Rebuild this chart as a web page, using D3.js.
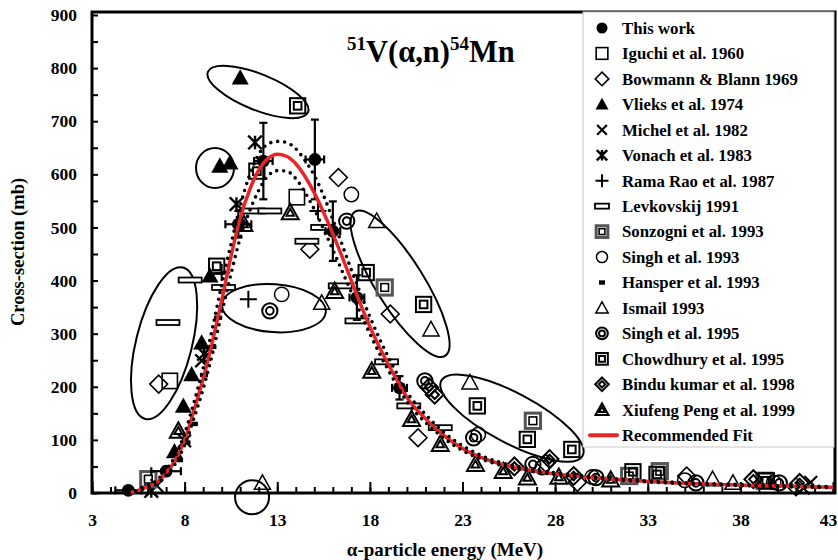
<!DOCTYPE html>
<html>
<head>
<meta charset="utf-8">
<script src="https://cdn.jsdelivr.net/npm/d3@7/dist/d3.min.js"></script>
<style>
body{margin:0;background:#fff;}
text{font-family:"Liberation Serif","Times New Roman",serif;font-weight:bold;fill:#000;}
</style>
</head>
<body>
<svg width="838" height="560"></svg>
<script>
// recommended fit and its uncertainty band (dotted)
var fitE  = [5, 5.5, 6, 6.5, 7, 7.5, 8, 8.5, 9, 9.5, 10, 10.5, 11, 11.5, 12, 12.5, 13, 13.5, 14, 14.5, 15, 15.5, 16, 16.5, 17, 17.5, 18, 18.5, 19, 19.5, 20, 21, 22, 23, 24, 25, 26, 27, 28, 30, 32, 34, 36, 38, 40, 43];
var fitS  = [0, 5, 12, 20, 38, 62, 100, 155, 215, 285, 362, 445, 518, 570, 608, 630, 638, 634, 620, 596, 565, 528, 488, 445, 400, 355, 313, 276, 242, 210, 180, 140, 108, 84, 67, 55, 47, 41, 36, 29, 24, 20, 17, 15, 13, 11];
var bandHi = [0, 6, 14, 24, 44, 70, 112, 170, 235, 310, 392, 468, 540, 598, 638, 657, 662, 660, 648, 626, 598, 560, 515, 468, 420, 375, 332, 292, 256, 222, 190, 148, 114, 89, 71, 58, 50, 43, 38, 31, 25, 21, 18, 16, 14, 12];
var bandLo = [0, 4, 10, 17, 33, 55, 90, 140, 196, 262, 338, 412, 480, 530, 570, 597, 607, 606, 592, 566, 534, 497, 458, 418, 378, 338, 300, 264, 231, 200, 172, 133, 103, 80, 64, 53, 45, 39, 35, 28, 23, 19, 16, 14, 12, 10];

// this work, with error bars
var workE    = [4.96, 7.0, 10.9, 12.25, 15.03, 16.0, 17.3, 19.6];
var workS    = [5, 41, 506, 625, 628, 493, 368, 198];
var workErrS = [0, 8, 25, 72, 75, 56, 42, 22];
var workErrE = [0.7, 0.8, 0.7, 0.5, 0.5, 0.4, 0.4, 0.4];

// literature data [energy MeV, cross-section mb]
var iguchi   = [[7.2, 211], [14.06, 557]];
var bowmann  = [[6.6, 205], [14.76, 459], [16.3, 594], [19.1, 337], [20.6, 104], [27.5, 56], [29.2, 20], [35.1, 32], [41.0, 12]];
var vlieks   = [[7.45, 78], [7.93, 164], [8.38, 223], [8.92, 283], [9.37, 409], [9.9, 616], [10.45, 622], [11.0, 782]];
var michel   = [[6.5, 14], [8.0, 98], [8.92, 249], [41.4, 9], [41.8, 20]];
var vonach   = [[6.2, 4], [9.05, 262], [10.8, 544], [11.8, 660]];
var ramaRao  = [[10.0, 415], [11.44, 365], [15.2, 531]];
var levkov   = [[7.1, 321], [8.3, 401], [10.1, 387], [11.7, 531], [12.6, 531], [14.6, 474], [15.45, 500], [16.4, 390], [17.3, 324], [18.9, 247], [20.1, 164], [21.8, 123]];
var sonzogni = [[6.04, 26], [18.8, 387], [26.8, 136], [32.0, 32], [33.65, 41], [39.3, 23]];
var singh93  = [[13.24, 374], [17.0, 562], [23.85, 110], [27.3, 48], [30.0, 30], [35.0, 24], [39.8, 20]];
var hansper  = [[7.7, 62], [8.1, 95], [8.5, 130], [9.05, 222], [9.5, 275], [9.8, 330]];
var ismail   = [[12.2, 19], [15.4, 358], [18.37, 512], [21.3, 308], [23.4, 208], [36.5, 26], [37.6, 19]];
var singh95  = [[12.6, 343], [16.75, 512], [20.97, 211], [23.6, 104], [26.8, 54], [30.2, 29], [35.6, 19], [40.1, 19]];
var chowdhury = [[9.73, 427], [11.9, 606], [14.1, 729], [17.8, 415], [20.9, 355], [23.8, 164], [26.5, 101], [28.9, 82], [32.2, 40], [33.5, 35], [39.4, 23]];
var bindu    = [[21.2, 199], [21.5, 185], [25.8, 50], [27.7, 64], [29.0, 32], [38.7, 26], [41.2, 19]];
var xiufeng  = [[7.66, 117], [11.2, 506], [13.7, 528], [16.1, 380], [18.1, 230], [20.25, 139], [21.8, 92], [23.7, 54], [25.2, 41], [26.5, 29], [28.2, 30], [31.0, 25]];

var legendNames = ['This work', 'Iguchi et al. 1960', 'Bowmann & Blann 1969', 'Vlieks et al. 1974', 'Michel et al. 1982',
	'Vonach et al. 1983', 'Rama Rao et al. 1987', 'Levkovskij 1991', 'Sonzogni et al. 1993', 'Singh et al. 1993',
	'Hansper et al. 1993', 'Ismail 1993', 'Singh et al. 1995', 'Chowdhury et al. 1995', 'Bindu kumar et al. 1998',
	'Xiufeng Peng et al. 1999', 'Recommended Fit'];
var legendMarks = ['dot', 'square', 'diamond', 'tri', 'x', 'star', 'plus', 'bar', 'sonz', 'circle', 'hansper',
	'triOpen', 'dcircle', 'dsquare', 'ddiamond', 'dtri', 'fit'];

var xTicks = [3, 8, 13, 18, 23, 28, 33, 38, 43];
var yTicks = [0, 100, 200, 300, 400, 500, 600, 700, 800, 900];

// annotation ellipses [E, sigma, rx px, ry px, rotation]
var ellipses = [[11.96, 755, 54, 18, 22], [9.64, 612, 19, 20, 0], [6.89, 282, 28, 78, 14], [12.82, 348, 52, 24, 4],
	[19.63, 394, 85, 24, 58], [25.67, 141, 80, 25, 28], [11.64, -8, 17, 17, 0]];

var svg = d3.select('svg');

var x = d3.scaleLinear().domain([3, 43]).range([92, 833]);
var y = d3.scaleLinear().domain([0, 900]).range([493, 15]);

// axes
svg.append('g')
	.attr('transform', 'translate(0,' + y(0) + ')')
	.call(d3.axisBottom(x).tickValues(d3.range(3, 44, 1)).tickSize(-6).tickFormat(''))
	.call(g => g.select('.domain').remove())
	.selectAll('line').attr('stroke-width', 2);
svg.append('g')
	.attr('transform', 'translate(0,' + y(0) + ')')
	.call(d3.axisBottom(x).tickValues(xTicks).tickSize(-11).tickPadding(21).tickFormat(d3.format('d')))
	.call(g => g.select('.domain').remove())
	.call(g => g.selectAll('line').attr('stroke-width', 2))
	.call(g => g.selectAll('text').attr('font-size', 17.5).attr('font-family', null)
		.attr('dx', d => d === 43 ? -5 : 0));
svg.append('g')
	.attr('transform', 'translate(' + x(3) + ',0)')
	.call(d3.axisLeft(y).tickValues(d3.range(0, 901, 50)).tickSize(-6).tickFormat(''))
	.call(g => g.select('.domain').remove())
	.selectAll('line').attr('stroke-width', 2);
svg.append('g')
	.attr('transform', 'translate(' + x(3) + ',0)')
	.call(d3.axisLeft(y).tickValues(yTicks).tickSize(0).tickPadding(15).tickFormat(d3.format('d')))
	.call(g => g.select('.domain').remove())
	.call(g => g.selectAll('text').attr('font-size', 17.5).attr('font-family', null));

svg.append('rect')
	.attr('x', x(3)).attr('y', y(900) - 3)
	.attr('width', x(43) - x(3) + 2).attr('height', y(0) - y(900) + 3)
	.attr('fill', 'none').attr('stroke', '#000').attr('stroke-width', 3);

svg.append('text').attr('transform', 'translate(24,252) rotate(-90)')
	.attr('text-anchor', 'middle').attr('font-size', 18.5).text('Cross-section (mb)');
svg.append('text').attr('x', 445).attr('y', 556)
	.attr('text-anchor', 'middle').attr('font-size', 19).text('α-particle energy (MeV)');

var title = svg.append('text').attr('x', 347).attr('y', 62).attr('font-size', 30.5);
title.append('tspan').attr('font-size', 19).attr('dy', -12).text('51');
title.append('tspan').attr('dy', 12).text('V(α,n)');
title.append('tspan').attr('font-size', 19).attr('dy', -12).text('54');
title.append('tspan').attr('dy', 12).text('Mn');

// marker drawing
function tri(h){ return 'M0,' + (-h) + 'L' + h + ',' + (h * 0.8) + 'L' + (-h) + ',' + (h * 0.8) + 'Z'; }
function dia(h){ return 'M0,' + (-h) + 'L' + h + ',0L0,' + h + 'L' + (-h) + ',0Z'; }
function marker(g, type, s, legend){
	var h = s / 2;
	function sq(k, w){ return g.append('rect').attr('x', -k).attr('y', -k).attr('width', 2 * k).attr('height', 2 * k)
		.attr('fill', 'none').attr('stroke', '#000').attr('stroke-width', w); }
	switch(type){
		case 'dot': g.append('circle').attr('r', h * 0.85).attr('fill', '#000'); break;
		case 'square': sq(h * 0.9, 1.6); break;
		case 'diamond': g.append('path').attr('d', dia(h * 1.05)).attr('fill', 'none').attr('stroke', '#000').attr('stroke-width', 1.6); break;
		case 'tri': g.append('path').attr('d', tri(h)).attr('fill', '#000'); break;
		case 'triOpen': g.append('path').attr('d', tri(h * 0.95)).attr('fill', 'none').attr('stroke', '#000').attr('stroke-width', 1.5); break;
		case 'x': g.append('path').attr('d', 'M' + (-h * .75) + ',' + (-h * .75) + 'L' + (h * .75) + ',' + (h * .75) + 'M' + (h * .75) + ',' + (-h * .75) + 'L' + (-h * .75) + ',' + (h * .75))
			.attr('stroke', '#000').attr('stroke-width', 2.2); break;
		case 'star': g.append('path').attr('d', 'M' + (-h * .8) + ',' + (-h * .8) + 'L' + (h * .8) + ',' + (h * .8) + 'M' + (h * .8) + ',' + (-h * .8) + 'L' + (-h * .8) + ',' + (h * .8) + 'M0,' + (-h * .8) + 'L0,' + (h * .8))
			.attr('stroke', '#000').attr('stroke-width', 2.4); break;
		case 'plus': g.append('path').attr('d', 'M' + (-h) + ',0L' + h + ',0M0,' + (-h) + 'L0,' + h)
			.attr('stroke', '#000').attr('stroke-width', 2); break;
		case 'bar':
			var bw = legend ? 7 : 11.5;
			g.append('rect').attr('x', -bw).attr('y', -2.5).attr('width', 2 * bw).attr('height', 5)
				.attr('fill', '#fff').attr('stroke', '#000').attr('stroke-width', 1.8); break;
		case 'sonz':
			g.append('rect').attr('x', -h * .9).attr('y', -h * .9).attr('width', h * 1.8).attr('height', h * 1.8)
				.attr('fill', 'none').attr('stroke', '#555').attr('stroke-width', 3);
			sq(h * 0.45, 1.6); break;
		case 'circle': g.append('circle').attr('r', h * 0.85).attr('fill', 'none').attr('stroke', '#000').attr('stroke-width', 1.5); break;
		case 'hansper': g.append('rect').attr('x', legend ? -3 : -4).attr('y', -2.2).attr('width', legend ? 6 : 8).attr('height', 4.4).attr('fill', '#000'); break;
		case 'dcircle':
			g.append('circle').attr('r', h * 0.9).attr('fill', 'none').attr('stroke', '#000').attr('stroke-width', 2);
			g.append('circle').attr('r', h * 0.45).attr('fill', 'none').attr('stroke', '#000').attr('stroke-width', 2); break;
		case 'dsquare': sq(h * 0.9, 2); sq(h * 0.45, 2); break;
		case 'ddiamond':
			g.append('path').attr('d', dia(h * 1.05)).attr('fill', 'none').attr('stroke', '#000').attr('stroke-width', 2);
			g.append('path').attr('d', dia(h * 0.5)).attr('fill', 'none').attr('stroke', '#000').attr('stroke-width', 2); break;
		case 'dtri':
			g.append('path').attr('d', tri(h)).attr('fill', 'none').attr('stroke', '#000').attr('stroke-width', 2);
			g.append('path').attr('d', tri(h * 0.45)).attr('fill', 'none').attr('stroke', '#000').attr('stroke-width', 2); break;
		case 'fit': g.append('line').attr('x1', -12).attr('x2', 15).attr('stroke', '#e8262a').attr('stroke-width', 4).attr('stroke-linecap', 'round'); break;
	}
}

// annotation ellipses
svg.append('g').selectAll('ellipse')
	.data(ellipses)
	.enter()
	.append('ellipse')
	.attr('transform', d => 'translate(' + x(d[0]) + ',' + y(d[1]) + ') rotate(' + d[4] + ')')
	.attr('rx', d => d[2]).attr('ry', d => d[3])
	.attr('fill', 'none').attr('stroke', '#000').attr('stroke-width', 2);

// scatter series
var series = [
	{data: iguchi, mark: 'square'}, {data: bowmann, mark: 'diamond'}, {data: vlieks, mark: 'tri'},
	{data: michel, mark: 'x'}, {data: vonach, mark: 'star'}, {data: ramaRao, mark: 'plus'},
	{data: levkov, mark: 'bar'}, {data: sonzogni, mark: 'sonz'}, {data: singh93, mark: 'circle'},
	{data: hansper, mark: 'hansper'}, {data: ismail, mark: 'triOpen'}, {data: singh95, mark: 'dcircle'},
	{data: chowdhury, mark: 'dsquare'}, {data: bindu, mark: 'ddiamond'}, {data: xiufeng, mark: 'dtri'}
];
var gPts = svg.append('g');
series.forEach(function(s){
	gPts.append('g').selectAll('g')
		.data(s.data)
		.enter()
		.append('g')
		.attr('transform', d => 'translate(' + x(d[0]) + ',' + y(d[1]) + ')')
		.each(function(){ marker(d3.select(this), s.mark, 17, false); });
});

// this work
var work = workE.map((e, i) => ({e: e, s: workS[i], es: workErrS[i], ee: workErrE[i]}));
var gWork = svg.append('g').attr('stroke', '#000').attr('stroke-width', 2.2);
work.forEach(function(d){
	var cx = x(d.e), cy = y(d.s);
	if (d.es > 0){
		var y1 = y(d.s - d.es), y2 = y(d.s + d.es);
		gWork.append('line').attr('x1', cx).attr('x2', cx).attr('y1', y1).attr('y2', y2);
		gWork.append('line').attr('x1', cx - 4).attr('x2', cx + 4).attr('y1', y1).attr('y2', y1);
		gWork.append('line').attr('x1', cx - 4).attr('x2', cx + 4).attr('y1', y2).attr('y2', y2);
	}
	var x1 = x(d.e - d.ee), x2 = x(d.e + d.ee);
	gWork.append('line').attr('x1', x1).attr('x2', x2).attr('y1', cy).attr('y2', cy);
	gWork.append('line').attr('x1', x1).attr('x2', x1).attr('y1', cy - 4).attr('y2', cy + 4);
	gWork.append('line').attr('x1', x2).attr('x2', x2).attr('y1', cy - 4).attr('y2', cy + 4);
	marker(svg.append('g').attr('transform', 'translate(' + cx + ',' + cy + ')'), 'dot', 15, false);
});

// fit and band
var line = d3.line().x(d => x(d[0])).y(d => y(d[1])).curve(d3.curveMonotoneX);
svg.append('path').datum(fitE.map((e, i) => [e, fitS[i]]))
	.attr('d', line).attr('fill', 'none').attr('stroke', '#e8262a').attr('stroke-width', 3.5);
[bandHi, bandLo].forEach(function(b){
	svg.append('path').datum(fitE.map((e, i) => [e, b[i]]))
		.attr('d', line).attr('fill', 'none').attr('stroke', '#000').attr('stroke-width', 3.6)
		.attr('stroke-linecap', 'round').attr('stroke-dasharray', '0,7');
});

// legend
var gLeg = svg.append('g');
gLeg.append('rect').attr('x', 583).attr('y', 12).attr('width', 251).attr('height', 435)
	.attr('fill', '#fff').attr('stroke', '#c8c8c8').attr('stroke-width', 1);
legendNames.forEach(function(name, i){
	var ly = 28 + i * 25.45;
	marker(gLeg.append('g').attr('transform', 'translate(602,' + ly + ')'), legendMarks[i], 13, true);
	gLeg.append('text').attr('x', 622).attr('y', ly).attr('dy', '0.35em').attr('font-size', 16.8).text(name);
});
</script>
</body>
</html>
